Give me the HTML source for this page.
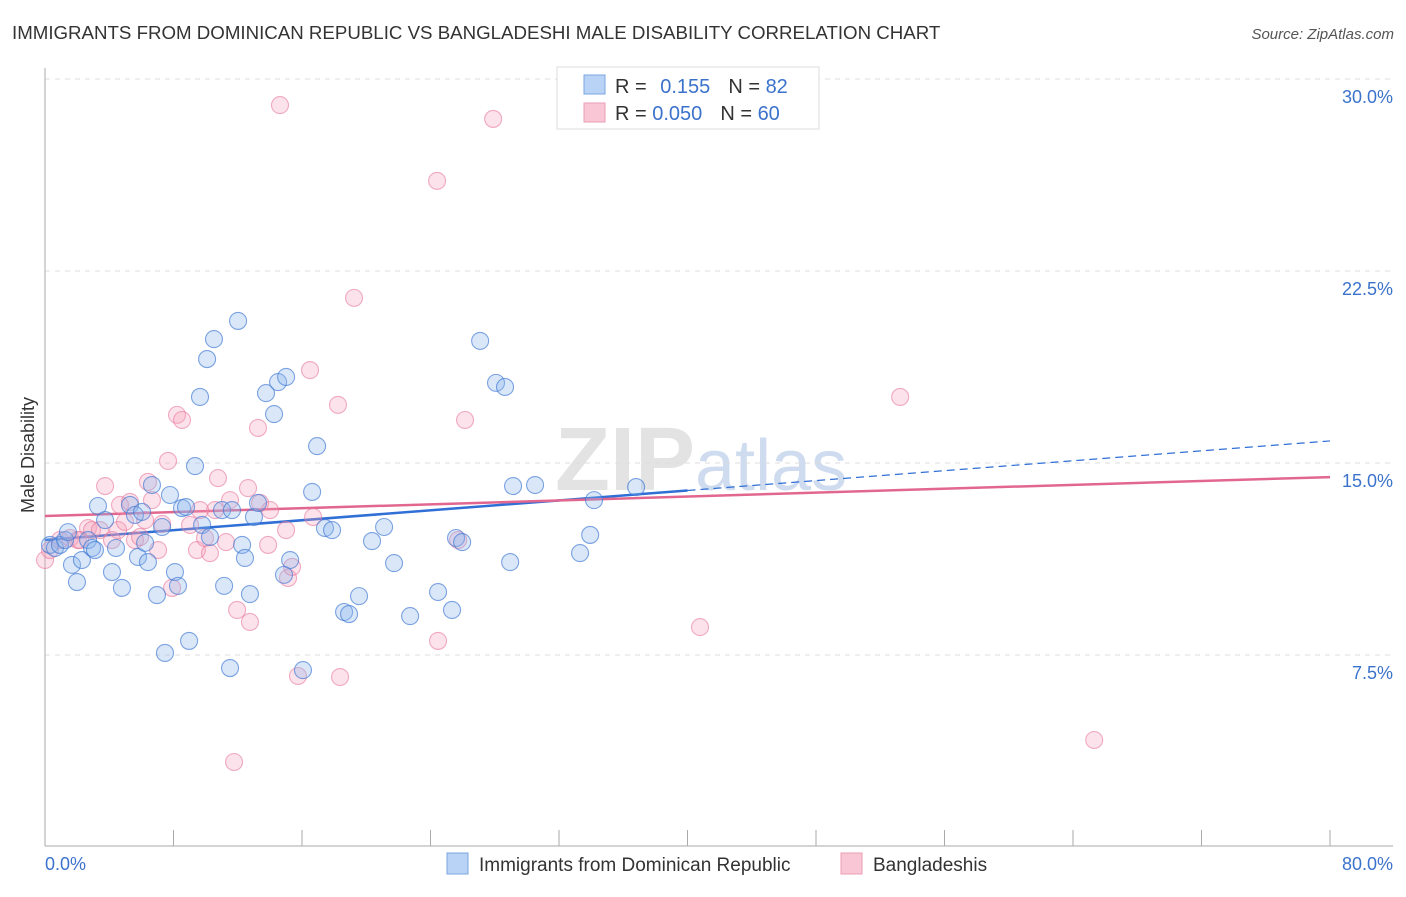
<!DOCTYPE html>
<html><head><meta charset="utf-8"><style>
body{margin:0;background:#fff;font-family:"Liberation Sans",sans-serif;}
svg text{font-family:"Liberation Sans",sans-serif;}
</style></head><body>
<svg id="chart" width="1406" height="892" xmlns="http://www.w3.org/2000/svg">
<text x="12" y="39" font-size="18.7" fill="#333">IMMIGRANTS FROM DOMINICAN REPUBLIC VS BANGLADESHI MALE DISABILITY CORRELATION CHART</text>
<text x="1394" y="39" font-size="15" fill="#555" text-anchor="end" font-style="italic">Source: ZipAtlas.com</text>
<text x="555" y="490" font-size="90" fill="#e3e3e3" font-family="Liberation Serif" font-weight="bold">ZIP<tspan fill="#cfdcf0" font-family="Liberation Sans" font-weight="normal" font-size="72">atlas</tspan></text>
<g id="grid"></g>
<g id="axes"></g>
<g id="trends"></g>
<g id="points"></g>
<text transform="translate(34,455) rotate(-90)" font-size="18" fill="#333" text-anchor="middle">Male Disability</text>
<g>
<rect x="557" y="67" width="262" height="62" fill="#fff" stroke="#ddd"/>
<rect x="584" y="75" width="21" height="19" fill="#b8d3f5" stroke="#7aa6e0"/>
<rect x="584" y="103" width="21" height="19" fill="#f9c6d5" stroke="#ec9db5"/>
<text x="615" y="93" font-size="20" fill="#333">R = <tspan fill="#3b73cc" dx="8">0.155</tspan><tspan dx="18" fill="#333">N = </tspan><tspan fill="#3b73cc">82</tspan></text>
<text x="615" y="120" font-size="20" fill="#333">R = <tspan fill="#3b73cc">0.050</tspan><tspan dx="18" fill="#333">N = </tspan><tspan fill="#3b73cc">60</tspan></text>
</g>
<g>
<rect x="447" y="853" width="21" height="21" fill="#b8d3f5" stroke="#7aa6e0"/>
<text x="479" y="871" font-size="19" fill="#333">Immigrants from Dominican Republic</text>
<rect x="841" y="853" width="21" height="21" fill="#f9c6d5" stroke="#ec9db5"/>
<text x="873" y="871" font-size="19" fill="#333">Bangladeshis</text>
</g>
</svg>
<script>
const yTicks=[7.5,15,22.5,30];
const yTickLabels=["7.5%","15.0%","22.5%","30.0%"];
const xTickLabels=["0.0%","80.0%"];
const blueX=[0.31,0.62,0.93,1.25,1.43,1.68,1.99,2.30,2.68,2.93,3.11,3.30,3.74,4.17,4.42,4.79,5.29,5.60,5.79,6.04,6.23,6.41,6.66,6.97,7.29,7.47,7.78,8.09,8.28,8.53,8.78,8.97,9.34,9.65,9.78,10.09,10.27,10.52,11.02,11.15,11.52,11.64,12.02,12.27,12.45,12.76,13.01,13.26,13.76,14.26,14.51,15.01,14.88,15.26,16.06,16.63,16.94,17.43,17.87,18.62,18.93,19.55,20.36,21.11,21.73,22.73,24.47,25.34,25.59,25.97,27.09,28.08,28.64,28.96,29.14,30.51,33.31,33.94,34.18,36.80];
const blueY=[11.80,11.68,11.80,11.99,12.30,11.02,10.35,11.21,11.99,11.68,11.60,13.32,12.77,10.74,11.68,10.12,13.36,12.97,11.33,13.09,11.88,11.13,14.14,9.84,12.50,7.58,13.75,10.74,10.20,13.24,13.28,8.05,14.88,17.58,12.58,19.06,12.11,19.84,13.16,10.20,6.99,13.16,20.55,11.80,11.29,9.88,12.89,13.44,17.73,16.91,18.16,18.36,10.63,11.21,6.91,13.87,15.66,12.46,12.38,9.18,9.10,9.80,11.95,12.50,11.09,9.02,9.96,9.26,12.07,11.91,19.77,18.13,17.97,11.13,14.10,14.14,11.48,12.19,13.55,14.06];
const pinkX=[0,0.31,0.93,1.56,2.05,2.68,2.93,3.42,3.74,4.17,4.55,4.67,4.98,5.29,5.60,5.92,6.41,6.66,7.04,7.29,7.66,7.91,8.22,8.53,9.03,9.46,9.96,10.27,10.59,10.77,11.27,11.96,12.64,12.76,13.26,13.39,13.89,14.63,15.01,15.13,15.38,15.75,16.50,16.69,18.24,18.37,19.24,24.41,24.47,25.72,26.15,27.90,40.78,53.24,65.32,14.01,9.65,6.23,2.18,11.52,11.77];
const pinkY=[11.21,11.60,11.99,12.07,11.99,12.46,12.38,12.38,14.10,11.99,12.38,13.36,12.70,13.48,11.99,12.11,14.26,13.55,11.60,12.62,15.08,10.12,16.88,16.68,12.58,11.60,12.07,11.48,13.16,14.41,11.91,9.26,14.02,8.79,16.37,13.44,11.80,28.98,12.38,10.51,10.94,6.68,18.63,12.89,17.27,6.64,21.45,26.02,8.05,11.99,16.68,28.44,8.59,17.58,4.18,13.16,13.16,12.77,11.99,13.55,3.32];
const blueTrend=[11.99,0.0484]; // intercept, slope
const pinkTrend=[12.93,0.019];
const blueSolidEnd=40;
const NS="http://www.w3.org/2000/svg";
const X=v=>45+v*(1285/80), Y=v=>847-v*25.6;
function mk(t,a,p){const e=document.createElementNS(NS,t);for(const k in a)e.setAttribute(k,a[k]);p.appendChild(e);return e;}
const grid=document.getElementById('grid'),axes=document.getElementById('axes');
yTicks.forEach((t,i)=>{
 const l=mk('line',{x1:45,x2:1393,y1:Y(t),y2:Y(t),stroke:'#ddd','stroke-dasharray':'5,5'},grid);
 
 
 const tx=mk('text',{x:1393,y:Y(t)+24,'font-size':18,fill:'#3b73cc','text-anchor':'end'},axes);tx.textContent=yTickLabels[i];
 
 
});
const ax=mk('line',{x1:45,x2:45,y1:68,y2:846,stroke:'#aaa'},axes);


const bx=mk('line',{x1:45,x2:1393,y1:846,y2:846,stroke:'#aaa'},axes);


for(let i=0;i<=10;i++){const t=mk('line',{x1:X(i*8),x2:X(i*8),y1:830,y2:846,stroke:'#aaa'},axes);
 
 }
[[0,'start'],[80,'end']].forEach((p,i)=>{const t=mk('text',{x:i?1393:45,y:870,'font-size':18,fill:'#3b73cc','text-anchor':p[1]},axes);t.textContent=xTickLabels[i];
 
 });
const pts=document.getElementById('points');
function dots(xs,ys,fill,stroke,name){xs.forEach((x,i)=>{const c=mk('circle',{cx:X(x),cy:Y(ys[i]),r:8.5,fill:fill,stroke:stroke,'stroke-width':1.1},pts);
 
 });}
dots(pinkX,pinkY,'rgba(244,160,186,0.3)','rgba(232,120,156,0.6)','bangladeshi-point');
dots(blueX,blueY,'rgba(140,182,238,0.33)','rgba(62,118,210,0.65)','dominican-point');
const tr=document.getElementById('trends');
const f=(t,x)=>t[0]+t[1]*x;
let l=mk('line',{x1:X(0),y1:Y(f(blueTrend,0)),x2:X(blueSolidEnd),y2:Y(f(blueTrend,blueSolidEnd)),stroke:'#2f6fd6','stroke-width':2.5},tr);


l=mk('line',{x1:X(blueSolidEnd),y1:Y(f(blueTrend,blueSolidEnd)),x2:X(80),y2:Y(f(blueTrend,80)),stroke:'#2f6fd6','stroke-width':1.2,'stroke-dasharray':'8,5'},tr);


l=mk('line',{x1:X(0),y1:Y(f(pinkTrend,0)),x2:X(80),y2:Y(f(pinkTrend,80)),stroke:'#e2678f','stroke-width':2.5},tr);


</script>
</body></html>
